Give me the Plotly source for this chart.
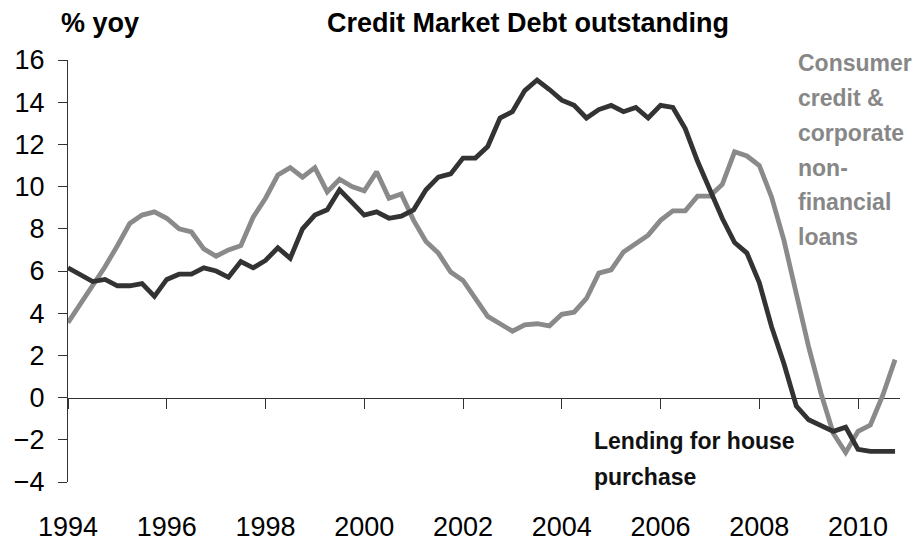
import plotly.graph_objects as go

# Quarterly data, 1994Q1 .. 2010Q4 (68 quarters)
start_year = 1994
n_quarters = 68
quarters = [start_year + i / 4 for i in range(n_quarters)]

house_purchase = [
    6.15, 5.85, 5.5, 5.6, 5.3, 5.3, 5.4, 4.8,
    5.6, 5.85, 5.85, 6.15, 6.0, 5.7, 6.45, 6.15,
    6.5, 7.1, 6.6, 8.0, 8.65, 8.9, 9.85, 9.25,
    8.65, 8.8, 8.5, 8.6, 8.9, 9.85, 10.45, 10.6,
    11.35, 11.35, 11.9, 13.25, 13.55, 14.55, 15.05, 14.6,
    14.1, 13.85, 13.25, 13.65, 13.85, 13.55, 13.75, 13.25,
    13.85, 13.75, 12.75, 11.2, 9.8, 8.5, 7.35, 6.85,
    5.45, 3.35, 1.6, -0.4, -1.05, -1.35, -1.6, -1.4,
    -2.45, -2.55, -2.55, -2.55,
]

consumer_corporate = [
    3.55, 4.4, 5.3, 6.2, 7.2, 8.25, 8.65, 8.8,
    8.5, 8.0, 7.85, 7.05, 6.7, 7.0, 7.2, 8.55,
    9.45, 10.55, 10.9, 10.45, 10.9, 9.75, 10.35, 10.0,
    9.8, 10.7, 9.45, 9.65, 8.4, 7.4, 6.85, 5.95,
    5.55, 4.7, 3.85, 3.5, 3.15, 3.45, 3.5, 3.4,
    3.95, 4.05, 4.7, 5.9, 6.05, 6.9, 7.3, 7.7,
    8.4, 8.85, 8.85, 9.55, 9.55, 10.1, 11.65, 11.45,
    11.0, 9.5, 7.45, 5.0, 2.4, 0.2, -1.7, -2.6,
    -1.6, -1.3, 0.1, 1.8,
]

x_tick_vals = [1994, 1996, 1998, 2000, 2002, 2004, 2006, 2008, 2010]
x_tick_text = [str(v) for v in x_tick_vals]
y_tick_vals = [-4, -2, 0, 2, 4, 6, 8, 10, 12, 14, 16]

title_text = "Credit Market Debt outstanding"
unit_text = "% yoy"
consumer_label_lines = ["Consumer", "credit &", "corporate", "non-", "financial", "loans"]
house_label_lines = ["Lending for house", "purchase"]

FONT = "Liberation Sans, Arial, sans-serif"
DARK = "#333333"
GRAY = "#8a8a8a"
X_RANGE = [1994, 2010.85]

fig = go.Figure()
fig.add_trace(go.Scatter(
    x=quarters, y=consumer_corporate, mode="lines",
    line=dict(color=GRAY, width=4.8), showlegend=False, hoverinfo="skip",
))
fig.add_trace(go.Scatter(
    x=quarters, y=house_purchase, mode="lines",
    line=dict(color=DARK, width=4.8), showlegend=False, hoverinfo="skip",
))
# invisible helper trace so the zero-line axis (x2) is rendered
fig.add_trace(go.Scatter(
    x=[quarters[0]], y=[0], xaxis="x2", mode="markers",
    marker=dict(opacity=0), showlegend=False, hoverinfo="skip",
))

W, H = 921, 541
ML, MR, MT, MB = 68, 21, 60, 59
PW, PH = W - ML - MR, H - MT - MB


def px_to_paper_x(px):
    return (px - ML) / PW


def px_to_paper_y(py):
    return (H - MB - py) / PH


annotations = [
    dict(text=f"<b>{unit_text}</b>", x=px_to_paper_x(59), y=px_to_paper_y(23),
         xanchor="left", yanchor="middle"),
    dict(text=f"<b>{title_text}</b>", x=px_to_paper_x(527.5), y=px_to_paper_y(23),
         xanchor="center", yanchor="middle"),
]
for a in annotations:
    a.update(xref="paper", yref="paper", showarrow=False,
             font=dict(family=FONT, size=27, color="#000000"))

for i, line in enumerate(consumer_label_lines):
    annotations.append(dict(
        text=f"<b>{line}</b>", xref="paper", yref="paper",
        x=px_to_paper_x(796), y=px_to_paper_y(63.5 + i * 34.7),
        xanchor="left", yanchor="middle", showarrow=False,
        font=dict(family=FONT, size=23, color="#878787"),
    ))
for i, line in enumerate(house_label_lines):
    annotations.append(dict(
        text=f"<b>{line}</b>", xref="paper", yref="paper",
        x=px_to_paper_x(592), y=px_to_paper_y(441 + i * 36),
        xanchor="left", yanchor="middle", showarrow=False,
        font=dict(family=FONT, size=23, color="#111111"),
    ))

fig.update_layout(
    width=W, height=H, autosize=False,
    margin=dict(l=ML, r=MR, t=MT, b=MB, pad=0, autoexpand=False),
    paper_bgcolor="white", plot_bgcolor="white",
    font=dict(family=FONT, color="#000000"),
    xaxis=dict(
        range=X_RANGE, tickmode="array", tickvals=x_tick_vals, ticktext=x_tick_text,
        ticks="", showline=False, showgrid=False, zeroline=False, automargin=False,
        tickfont=dict(family=FONT, size=27, color="#000000"),
        ticklabelstandoff=26,
    ),
    xaxis2=dict(
        range=X_RANGE, overlaying="x", anchor="free", position=0.2, side="bottom",
        tickmode="array", tickvals=x_tick_vals, showticklabels=False,
        ticks="outside", ticklen=10, tickwidth=1, tickcolor=DARK,
        showline=True, linecolor=DARK, linewidth=1, automargin=False,
        showgrid=False, zeroline=False, layer="below traces",
    ),
    yaxis=dict(
        range=[-4, 16], tickmode="array", tickvals=y_tick_vals,
        ticks="outside", ticklen=9, tickwidth=1, tickcolor=DARK,
        showline=True, linecolor=DARK, linewidth=1, automargin=False,
        showgrid=False, zeroline=False, layer="below traces",
        tickfont=dict(family=FONT, size=27, color="#000000"),
        ticklabelstandoff=8,
    ),
    annotations=annotations,
)

fig.write_html(
    "out.html",
    config={"displayModeBar": False, "staticPlot": True},
    post_script="document.body.style.margin='0';document.body.style.padding='0';",
)
